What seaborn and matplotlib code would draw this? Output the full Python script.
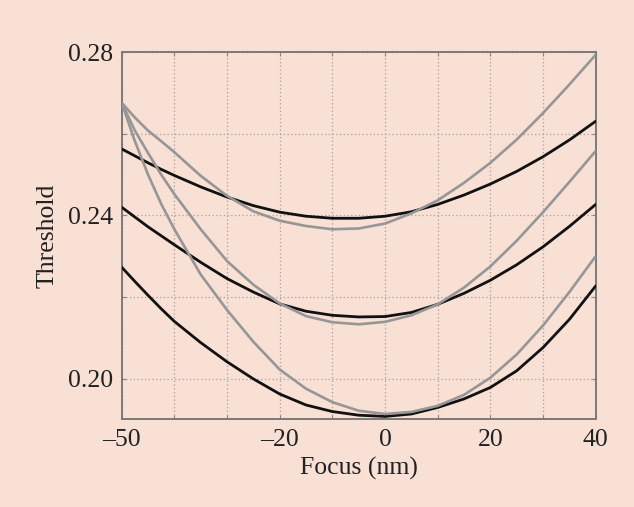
import matplotlib
matplotlib.use("Agg")
import matplotlib.pyplot as plt
import numpy as np
import pandas as pd
import seaborn as sns

# Focus positions (nm); denser sampling on the steep left side
focus = [-50, -47.5, -45, -42.5, -40, -35, -30, -25, -20, -15, -10, -5, 0, 5, 10, 15, 20, 25, 30, 35, 40]

# Black curves (upper, middle, lower)
black_top = [0.2563, 0.2546, 0.2529, 0.2513, 0.2498, 0.2470, 0.2445, 0.2424, 0.2408, 0.2398, 0.2393,
             0.2393, 0.2398, 0.2409, 0.2427, 0.2450, 0.2477, 0.2508, 0.2544, 0.2585, 0.2631]
black_mid = [0.2420, 0.2396, 0.2372, 0.2350, 0.2328, 0.2285, 0.2245, 0.2212, 0.2183, 0.2165, 0.2155,
             0.2151, 0.2152, 0.2162, 0.2182, 0.2209, 0.2241, 0.2279, 0.2323, 0.2373, 0.2427]
black_low = [0.2273, 0.2238, 0.2204, 0.2171, 0.2140, 0.2088, 0.2041, 0.1999, 0.1962, 0.1935, 0.1919,
             0.1910, 0.1907, 0.1913, 0.1929, 0.1950, 0.1978, 0.2019, 0.2076, 0.2145, 0.2227]

# Gray curves (upper, middle, lower)
gray_top = [0.2676, 0.2640, 0.2608, 0.2582, 0.2555, 0.2497, 0.2448, 0.2410, 0.2387, 0.2374, 0.2366,
            0.2368, 0.2380, 0.2405, 0.2437, 0.2480, 0.2529, 0.2586, 0.2651, 0.2721, 0.2794]
gray_mid = [0.2676, 0.2608, 0.2553, 0.2500, 0.2452, 0.2366, 0.2288, 0.2230, 0.2184, 0.2153, 0.2138,
            0.2133, 0.2139, 0.2155, 0.2182, 0.2223, 0.2275, 0.2338, 0.2408, 0.2482, 0.2558]
gray_low = [0.2676, 0.2582, 0.2500, 0.2428, 0.2366, 0.2255, 0.2168, 0.2090, 0.2022, 0.1975, 0.1942,
            0.1921, 0.1913, 0.1918, 0.1933, 0.1960, 0.2002, 0.2059, 0.2130, 0.2212, 0.2300]

x_ticks = [-50, -40, -30, -20, -10, 0, 10, 20, 30, 40]
x_tick_labels = ["\u201350", "", "", "\u201320", "", "0", "", "20", "", "40"]
y_ticks = [0.20, 0.22, 0.24, 0.26, 0.28]
y_tick_labels = ["0.20", "", "0.24", "", "0.28"]

bg = "#F8E0D5"
ink = "#222222"
fs = 18.5
sns.set_theme(style="ticks")
plt.rcParams["font.family"] = ["Liberation Serif", "DejaVu Serif"]

fig = plt.figure(figsize=(6.34, 5.07), dpi=100, facecolor=bg)
ax = fig.add_axes([0.192, 0.173, 0.7476, 0.7238])
ax.set_facecolor(bg)

series = {
    "black_top": (black_top, "#111111"),
    "black_mid": (black_mid, "#111111"),
    "black_low": (black_low, "#111111"),
    "gray_top": (gray_top, "#969696"),
    "gray_mid": (gray_mid, "#969696"),
    "gray_low": (gray_low, "#969696"),
}
for name, (vals, col) in series.items():
    df = pd.DataFrame({"focus": focus, "threshold": vals})
    lw = 2.0 if col == "#111111" else 1.9
    sns.lineplot(data=df, x="focus", y="threshold", color=col, linewidth=lw,
                 ax=ax, zorder=3)

ax.set_xlim(-50, 40)
ax.set_ylim(0.19, 0.28)
ax.set_xticks(x_ticks)
ax.set_xticklabels(x_tick_labels)
ax.set_yticks(y_ticks)
ax.set_yticklabels(y_tick_labels)

ax.grid(True, linestyle=(0, (1, 2)), color="#a8a0a0", linewidth=0.9)
ax.tick_params(direction="in", length=3, width=0.8, color="#8a8585",
               top=True, right=True, labelsize=fs, labelcolor=ink)
ax.tick_params(axis="x", pad=7)
ax.tick_params(axis="y", pad=6)
for s in ax.spines.values():
    s.set_color("#7d7878")
    s.set_linewidth(1.4)

ax.set_xlabel("Focus (nm)", fontsize=fs, color=ink, labelpad=4)
ax.set_ylabel("Threshold", fontsize=fs, color=ink, labelpad=7)

fig.savefig("out.png", dpi=100, facecolor=bg)
